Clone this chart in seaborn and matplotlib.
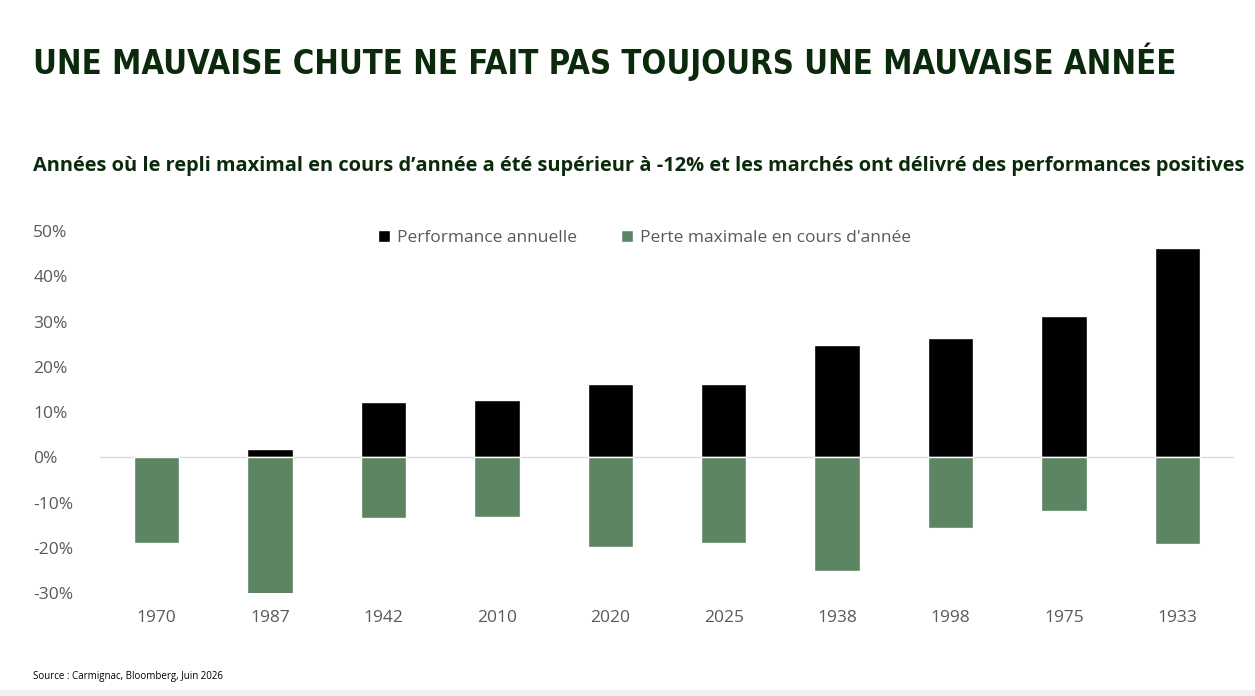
import matplotlib
matplotlib.use("Agg")
import matplotlib.pyplot as plt
import seaborn as sns
import pandas as pd
from matplotlib.patches import Rectangle

years = ["1970", "1987", "1942", "2010", "2020", "2025", "1938", "1998", "1975", "1933"]
perf = [0.0, 1.8, 12.1, 12.6, 16.1, 16.1, 24.9, 26.4, 31.3, 46.3]
loss = [-18.9, -30.2, -13.4, -13.2, -19.8, -18.9, -25.1, -15.6, -11.9, -19.2]
series = ["Performance annuelle", "Perte maximale en cours d'année"]
colors = ["#000000", "#5c8563"]
yticks = [-30, -20, -10, 0, 10, 20, 30, 40, 50]

df = pd.DataFrame({
    "year": years * 2,
    "value": perf + loss,
    "series": [series[0]] * len(years) + [series[1]] * len(years),
})

sns.set_theme(style="white")
plt.rcParams["font.family"] = ["Open Sans", "DejaVu Sans"]

fig = plt.figure(figsize=(12.55, 6.96), dpi=100)
ax = fig.add_axes([100/1255, 1-593/696, 1134/1255, 362/696])
sns.barplot(data=df, x="year", y="value", hue="series", palette=colors,
            dodge=False, width=0.4, order=years, hue_order=series, ax=ax, saturation=1)
ax.set_ylim(-30, 50)
ax.set_xlim(-0.5, len(years) - 0.5)
ax.set_yticks(yticks)
ax.set_yticklabels([f"{t}%" for t in yticks])
ax.set_xlabel("")
ax.set_ylabel("")
for s in ax.spines.values():
    s.set_visible(False)
ax.axhline(0, color="#d9d9d9", lw=1, zorder=0.5)
ax.tick_params(axis="both", length=0, labelsize=12.5, colors="#595959")
ax.tick_params(axis="x", pad=12)
for lab in ax.get_yticklabels():
    lab.set_horizontalalignment("left")
ax.tick_params(axis="y", pad=48)

leg = ax.legend(loc="upper center", bbox_to_anchor=(0.48, 1.045), ncol=2, frameon=False,
                fontsize=12.5, handlelength=0.7, handleheight=0.7, columnspacing=2.5,
                handletextpad=0.4)
for t in leg.get_texts():
    t.set_color("#595959")

t = fig.text(33/1255, 1-62/696, "UNE MAUVAISE CHUTE NE FAIT PAS TOUJOURS UNE MAUVAISE ANNÉE",
         family=["DejaVu Sans"], fontstretch="condensed", fontweight="bold",
         fontsize=29, color="#0b2a0b", va="center")
s = fig.text(33/1255, 1-166/696,
         "Années où le repli maximal en cours d’année a été supérieur à -12% et les marchés ont délivré des performances positives",
         fontweight="bold", fontsize=15.3, color="#0b2a0b", va="center")
fig.canvas.draw()
w = t.get_window_extent().width
if w > 1140:
    t.set_fontsize(29 * 1140 / w)
w2 = s.get_window_extent().width
if w2 > 1215:
    s.set_fontsize(15.3 * 1215 / w2)
fig.text(33/1255, 1-676/696, "Source : Carmignac, Bloomberg, Juin 2026",
         fontsize=7, color="#000000", va="center")
fig.patches.append(Rectangle((0, 0), 1, 6/696, transform=fig.transFigure,
                             color="#f0f0f0", zorder=0))
fig.savefig("out.png", dpi=100)
